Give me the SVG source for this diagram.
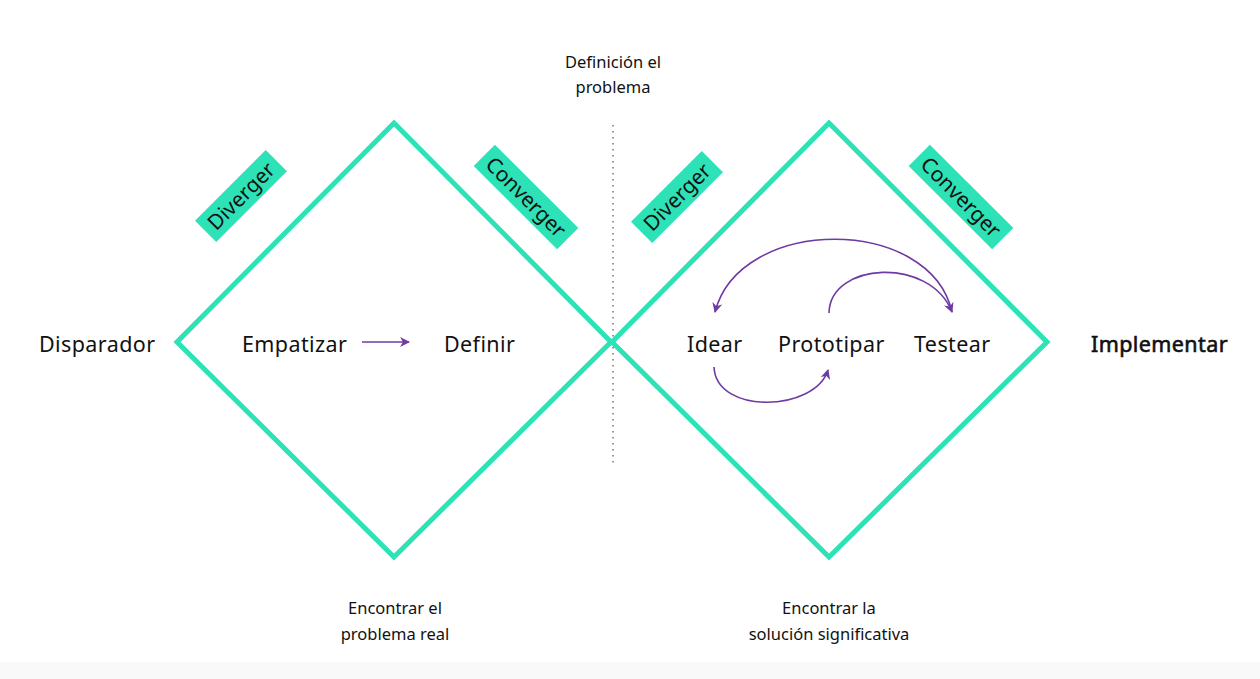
<svg xmlns="http://www.w3.org/2000/svg" width="1260" height="679" viewBox="0 0 1260 679">
<defs>
<style>
.dia{fill:none;stroke:#2de2b6;stroke-width:5;stroke-linejoin:miter}
.tag{fill:#2de2b6}
.t{font-family:"Noto Sans","Liberation Sans",sans-serif;fill:#111}
.lbl{font-size:21.5px;letter-spacing:0.4px}
.tagt{font-size:21px;text-anchor:middle}
.note{font-size:16.5px;text-anchor:middle}
.arr{fill:none;stroke:#6e3aa3;stroke-width:1.6}
</style>
<marker id="ah" viewBox="0 0 10 10" refX="9" refY="5" markerWidth="10" markerHeight="10" markerUnits="userSpaceOnUse" orient="auto">
<path d="M0,0 L10,5 L0,10 L3,5 z" fill="#6e3aa3"/>
</marker>
</defs>
<rect width="1260" height="679" fill="#ffffff"/>
<rect y="662" width="1260" height="17" fill="#f9f9f9"/>
<g id="divider"><line x1="613" y1="125" x2="613" y2="466" stroke="#777" stroke-width="1.5" stroke-dasharray="1.5 4.5"/></g>
<g id="diamond-left"><polygon class="dia" points="394,123 611,342 394,557 177,342"/></g>
<g id="diamond-right"><polygon class="dia" points="829,123 1047,342 829,557 612,342"/></g>
<g id="tag-diverger-1" transform="translate(241,196) rotate(-45)"><rect class="tag" x="-50" y="-15" width="100" height="30"/><text class="t tagt" x="0" y="7.5">Diverger</text></g>
<g id="tag-converger-1" transform="translate(526,197) rotate(45)"><rect class="tag" x="-59" y="-15" width="118" height="30"/><text class="t tagt" x="0" y="7.5">Converger</text></g>
<g id="tag-diverger-2" transform="translate(677,197) rotate(-45)"><rect class="tag" x="-50" y="-15" width="100" height="30"/><text class="t tagt" x="0" y="7.5">Diverger</text></g>
<g id="tag-converger-2" transform="translate(961,197) rotate(45)"><rect class="tag" x="-59" y="-15" width="118" height="30"/><text class="t tagt" x="0" y="7.5">Converger</text></g>
<g id="disparador"><text class="t lbl" x="39" y="352">Disparador</text></g>
<g id="empatizar"><text class="t lbl" x="242" y="352">Empatizar</text></g>
<g id="definir"><text class="t lbl" x="444" y="352">Definir</text></g>
<g id="idear"><text class="t lbl" x="687" y="352">Idear</text></g>
<g id="prototipar"><text class="t lbl" x="778" y="352">Prototipar</text></g>
<g id="testear"><text class="t lbl" x="914" y="352">Testear</text></g>
<g id="implementar"><text class="t lbl" x="1091" y="352" stroke="#111" stroke-width="0.6">Implementar</text></g>
<g id="note-top"><text class="t note" x="613" y="68">Definición el</text><text class="t note" x="613" y="93">problema</text></g>
<g id="note-left"><text class="t note" x="395" y="614">Encontrar el</text><text class="t note" x="395" y="640">problema real</text></g>
<g id="note-right"><text class="t note" x="829" y="614">Encontrar la</text><text class="t note" x="829" y="640">solución significativa</text></g>
<g id="connectors">
<path class="arr" d="M362,342 L409,342" marker-end="url(#ah)"/>
<path class="arr" d="M714,367 C716,415 815,412 828,370" marker-end="url(#ah)"/>
<path class="arr" d="M829,313 C830,262 930,256 952,312" marker-end="url(#ah)"/>
<path class="arr" d="M952,312 C930,215 740,215 715,312" marker-end="url(#ah)"/>
</g>
</svg>
